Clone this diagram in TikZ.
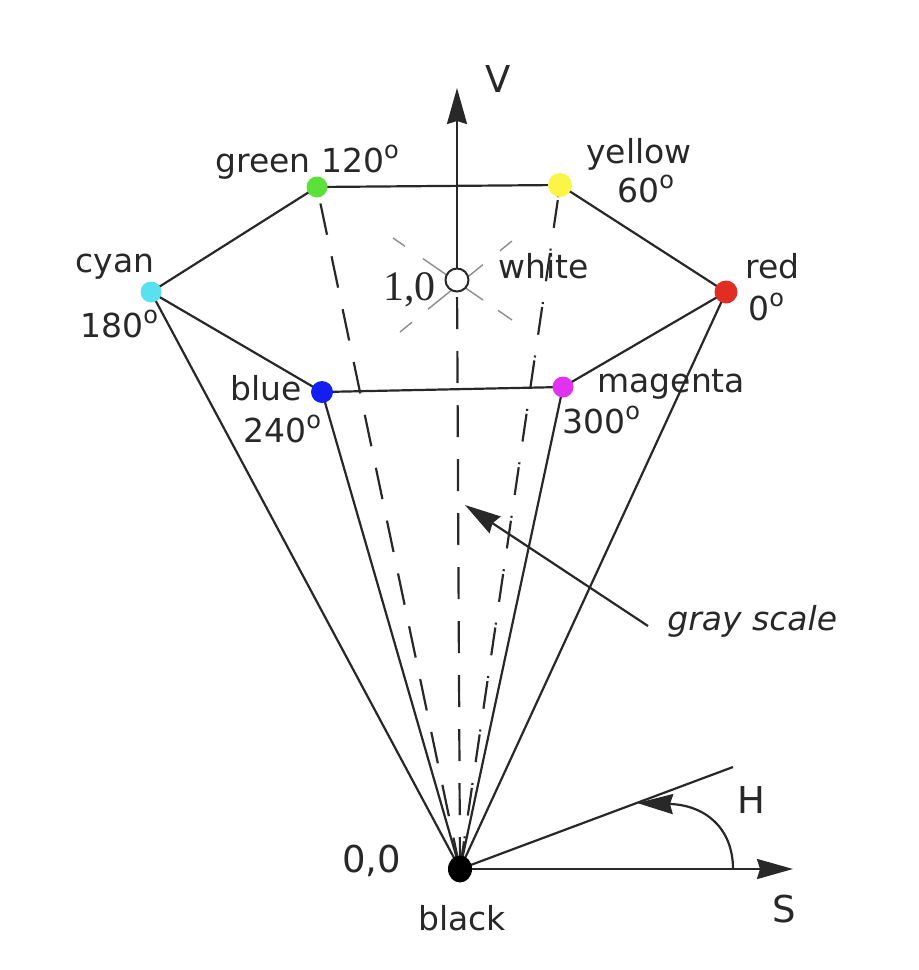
\documentclass[tikz,border=0pt]{standalone}
\usepackage{fontspec}
\setmainfont{DejaVu Sans}
\newfontfamily\serifnum{Liberation Serif}
\usetikzlibrary{arrows.meta,shapes.geometric}
\definecolor{cgreen}{RGB}{90,225,60}
\definecolor{cyellow}{RGB}{250,245,70}
\definecolor{cred}{RGB}{225,45,35}
\definecolor{ccyan}{RGB}{90,225,240}
\definecolor{cblue}{RGB}{20,30,240}
\definecolor{cmagenta}{RGB}{225,50,240}
\definecolor{ink}{RGB}{40,40,40}
\newcommand\degsup{\raisebox{7pt}{\fontsize{12}{12}\selectfont o}}
\begin{document}
\begin{tikzpicture}[x=0.5pt,y=-0.5pt,
 edge/.style={draw=ink,line width=1.1pt},
 dashedge/.style={draw=ink,line width=1.1pt,dash pattern=on 16pt off 11pt},
 dotdashedge/.style={draw=ink,line width=1.1pt,dash pattern=on 14pt off 1.5pt on 1pt off 10.5pt},
 xline/.style={draw=black!45,line width=0.7pt},
 dot/.style={circle,inner sep=0pt,minimum size=10.5pt},
 lab/.style={anchor=base west,inner sep=0pt,text=ink,font=\fontsize{16.5}{19}\selectfont},
 axlab/.style={anchor=base west,inner sep=0pt,text=ink,font=\fontsize{18.5}{22}\selectfont},
 tip/.style={-{Stealth[length=18pt,width=10pt,inset=1.5pt]}}
]
\useasboundingbox (0,0) rectangle (918,970);
% positions
\coordinate (black) at (460,869);
\coordinate (white) at (457,280);
\coordinate (green) at (317,187);
\coordinate (yellow) at (560,185);
\coordinate (red) at (726,292);
\coordinate (magenta) at (563,387);
\coordinate (blue) at (322,392);
\coordinate (cyan) at (151,292);
\coordinate (vtip) at (457,88);
\coordinate (stip) at (793,869);
\coordinate (hend) at (733,767);
\coordinate (arcstart) at (733,869);
\coordinate (arcend) at (637,803);
\coordinate (gsfrom) at (648,626);
\coordinate (gsto) at (465,505);
\coordinate (xa1) at (393,238);
\coordinate (xa2) at (512,320);
\coordinate (xb1) at (400,332);
\coordinate (xb2) at (512,241);
% gray cross through white
\draw[xline,dash pattern=on 7.3pt off 10.9pt on 36.5pt off 9.1pt on 8.5pt off 20pt] (xa1) -- (xa2);
\draw[xline,dash pattern=on 7.7pt off 10.3pt on 35.4pt off 11pt on 7.7pt off 20pt] (xb1) -- (xb2);
% hexagon
\draw[edge] (green) -- (yellow) -- (red) -- (magenta) -- (blue) -- (cyan) -- cycle;
% cone
\draw[edge] (black) -- (cyan);
\draw[edge] (black) -- (blue);
\draw[edge] (black) -- (magenta);
\draw[edge] (black) -- (red);
\draw[dashedge] (black) -- (green);
\draw[dotdashedge] (black) -- (yellow);
\draw[dashedge] (black) -- (white);
% axes
\draw[edge,tip] (white) -- (vtip);
\draw[edge,tip] (black) -- (stip);
\draw[edge] (black) -- (hend);
\draw[edge,tip] (arcstart) .. controls (733,828) and (705,805) .. (arcend);
\draw[edge,tip] (gsfrom) -- (gsto);
% dots
\node[dot,fill=cgreen] (greendot) at (green) {};
\node[dot,fill=cyellow,minimum size=12pt] (yellowdot) at (yellow) {};
\node[dot,fill=cred,minimum size=11.5pt] (reddot) at (red) {};
\node[dot,fill=cmagenta] (magentadot) at (magenta) {};
\node[dot,fill=cblue,minimum size=11pt] (bluedot) at (blue) {};
\node[dot,fill=ccyan] (cyandot) at (cyan) {};
\node[dot,draw=ink,fill=white,line width=1pt,minimum size=11.5pt] (whitedot) at (white) {};
\node[ellipse,fill=black,inner sep=0pt,minimum width=12pt,minimum height=13.5pt] (blackdot) at (black) {};
% labels
\node[lab] (lgreen) at (215,172) {green 120\degsup};
\node[lab] (lyellow) at (586,163) {yellow};
\node[lab] (l60) at (617,202) {60\degsup};
\node[lab] (lred) at (745,278) {red};
\node[lab] (l0) at (748,320) {0\degsup};
\node[lab] (lcyan) at (75,272) {cyan};
\node[lab] (l180) at (80,337) {180\degsup};
\node[lab] (lblue) at (230,400) {blue};
\node[lab] (l240) at (243,442) {240\degsup};
\node[lab] (lmag) at (597,392) {magenta};
\node[lab] (l300) at (562,433) {300\degsup};
\node[lab] (lwhite) at (498,278) {white};
\node[anchor=base west,inner sep=0pt,text=ink,font=\serifnum\fontsize{21}{24}\selectfont] (lone) at (383,300) {1,0};
\node[axlab] (lzero) at (342,872) {0,0};
\node[lab] (lblack) at (418,930) {black};
\node[axlab] (lV) at (485,92) {V};
\node[axlab] (lS) at (772,922) {S};
\node[axlab] (lH) at (737,813) {H};
\node[lab,font=\itshape\fontsize{16.5}{19}\selectfont] (lgray) at (667,630) {gray scale};
\end{tikzpicture}
\end{document}
